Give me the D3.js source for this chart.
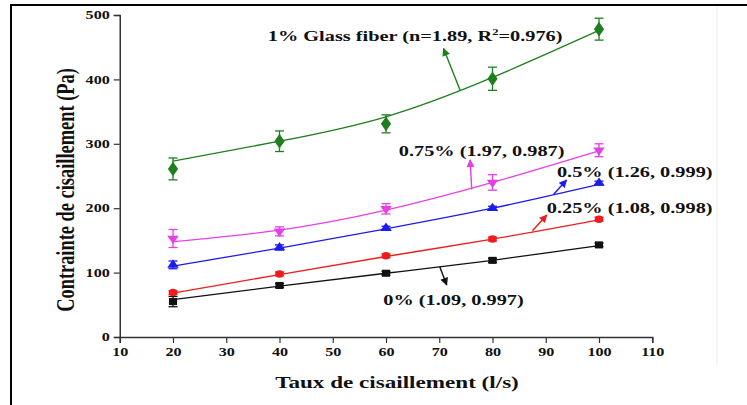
<!DOCTYPE html>
<html>
<head>
<meta charset="utf-8">
<script src="https://cdn.jsdelivr.net/npm/d3@7"></script>
<style>
  html, body { margin: 0; padding: 0; background: #fff; }
  svg { display: block; }
  text { font-family: "Liberation Serif", "Times New Roman", serif; font-weight: bold; fill: #111; }
</style>
</head>
<body>
<svg id="chart" width="747" height="405"></svg>
<script>
// Shear rate (1/s) at which each sample was measured
const shearRate = [20, 40, 60, 80, 100];

// Measured shear stress (Pa), error-bar half widths and fitted curve values
const stress0 = [55, 80, 99, 119, 143];
const err0 = [8, 3, 3, 3, 3];
const fit0 = [58, 79, 99, 119, 142];

const stress025 = [69, 98, 126, 152, 183];
const err025 = [3, 3, 3, 3, 3];
const fit025 = [68, 97, 125, 152, 182];

const stress05 = [112, 139, 169, 200, 239];
const err05 = [6, 4, 3, 3, 3];
const fit05 = [110, 138, 168, 200, 237];

const stress075 = [153, 164, 199, 240, 290];
const err075 = [14, 7, 8, 12, 10];
const fit075 = [148, 166, 197, 240, 289];

const stress1 = [261, 304, 331, 401, 478];
const err1 = [17, 16, 14, 18, 17];
const fit1 = [273, 304, 342, 403, 476];

const xTicks = [10, 20, 30, 40, 50, 60, 70, 80, 90, 100, 110];
const yTicks = [0, 100, 200, 300, 400, 500];

const xTitle = "Taux de cisaillement (l/s)";
const yTitle = "Contrainte de cisaillement (Pa)";

// The whole figure is drawn with a wide aspect: text is stretched horizontally
const WIDE = 1.4;

const series = [
  { values: stress0,   err: err0,   fit: fit0,   color: "#111111", symbol: d3.symbolSquare,   size: 50, sx: 1.15, sy: 1.0, rot: 0 },
  { values: stress025, err: err025, fit: fit025, color: "#ee1c1c", symbol: d3.symbolCircle,   size: 44, sx: 1.15, sy: 1.0, rot: 0 },
  { values: stress05,  err: err05,  fit: fit05,  color: "#1c1ced", symbol: d3.symbolTriangle, size: 40, sx: 1.2,  sy: 1.0, rot: 0 },
  { values: stress075, err: err075, fit: fit075, color: "#e63fe6", symbol: d3.symbolTriangle, size: 40, sx: 1.2,  sy: 1.0, rot: 180 },
  { values: stress1,   err: err1,   fit: fit1,   color: "#1f7f1f", symbol: d3.symbolDiamond,  size: 40, sx: 1.5,  sy: 1.25, rot: 0 }
];

// Annotation labels: text start / baseline and arrow (from curve to tip), in data units
const notes = [
  { s: 4, parts: [["1% Glass fiber (n=1.89, R", 0], ["2", 1], ["=0.976)", 0]], tx: 37.8, ty: 459, ax0: 73.9, ay0: 383.5, ax1: 70.8, ay1: 448 },
  { s: 3, parts: [["0.75% (1.97, 0.987)", 0]], tx: 62.4, ty: 281, ax0: 76.1, ay0: 229, ax1: 75.8, ay1: 275 },
  { s: 2, parts: [["0.5% (1.26, 0.999)", 0]], tx: 92.1, ty: 249, ax0: 91.5, ay0: 221.6, ax1: 93.9, ay1: 243.8 },
  { s: 1, parts: [["0.25% (1.08, 0.998)", 0]], tx: 90.2, ty: 193, ax0: 87.5, ay0: 165, ax1: 90.2, ay1: 189.4 },
  { s: 0, parts: [["0% (1.09, 0.997)", 0]], tx: 59.5, ty: 49.7, ax0: 70.1, ay0: 109, ax1: 71.4, ay1: 80.7 }
];

const svg = d3.select("#chart");

// Stretch a text element horizontally by factor k, keeping its anchor
function widen(sel, k) {
  sel.each(function () {
    const w = this.getComputedTextLength();
    d3.select(this).attr("textLength", w * k).attr("lengthAdjust", "spacingAndGlyphs");
  });
}

// Page frame
svg.append("line").attr("x1", 11).attr("y1", 4).attr("x2", 11).attr("y2", 405)
  .attr("stroke", "#000").attr("stroke-width", 2);
svg.append("line").attr("x1", 10).attr("y1", 5).attr("x2", 747).attr("y2", 5)
  .attr("stroke", "#000").attr("stroke-width", 2);
svg.append("line").attr("x1", 717).attr("y1", 6).attr("x2", 717).attr("y2", 365)
  .attr("stroke", "#ececec").attr("stroke-width", 1);

const x = d3.scaleLinear().domain([10, 110]).range([119.75, 652.25]);
const y = d3.scaleLinear().domain([0, 500]).range([337, 15]);

const axisColor = "#333";

// X axis: major ticks every 10, minor every 5
const gx = svg.append("g").attr("transform", `translate(0,${y(0)})`);
gx.call(d3.axisBottom(x).tickValues(d3.range(10, 111, 5)).tickSize(3).tickFormat(""))
  .call(g => g.select(".domain").remove());
gx.call(d3.axisBottom(x).tickValues(xTicks).tickSize(6).tickFormat(d3.format("d")).tickPadding(5));
gx.selectAll("line").attr("stroke", axisColor).attr("stroke-width", 1.2);
gx.select(".domain").attr("stroke", axisColor).attr("stroke-width", 1.5);
gx.selectAll("text").attr("font-size", 11.5).attr("font-family", "Liberation Serif")
  .attr("font-weight", "bold").attr("fill", "#222").call(widen, WIDE);

// Y axis: major ticks every 100, minor every 50
const gy = svg.append("g").attr("transform", `translate(${x(10)},0)`);
gy.call(d3.axisLeft(y).tickValues(d3.range(0, 501, 50)).tickSize(3).tickFormat(""))
  .call(g => g.select(".domain").remove());
gy.call(d3.axisLeft(y).tickValues(yTicks).tickSize(6).tickFormat(d3.format("d")).tickPadding(4));
gy.selectAll("line").attr("stroke", axisColor).attr("stroke-width", 1.2);
gy.select(".domain").attr("stroke", axisColor).attr("stroke-width", 1.5);
gy.selectAll("text").attr("font-size", 11.5).attr("font-family", "Liberation Serif")
  .attr("font-weight", "bold").attr("fill", "#222").call(widen, WIDE);

// Axis titles
svg.append("text").attr("x", 397).attr("y", 388).attr("text-anchor", "middle")
  .attr("font-size", 16.5).text(xTitle).call(widen, WIDE);
svg.append("text")
  .attr("transform", `translate(74,${(y(0) + y(500)) / 2 + 14}) scale(${WIDE},1) rotate(-90)`)
  .attr("text-anchor", "middle").attr("font-size", 18.4).text(yTitle);

// Arrowhead markers, one per series colour
const defs = svg.append("defs");
series.forEach((s, i) => {
  defs.append("marker").attr("id", "arr" + i)
    .attr("viewBox", "0 0 10 10").attr("refX", 9).attr("refY", 5)
    .attr("markerWidth", 10).attr("markerHeight", 8).attr("markerUnits", "userSpaceOnUse")
    .attr("orient", "auto")
    .append("path").attr("d", "M0,0 L10,5 L0,10 Z").attr("fill", s.color);
});

const line = d3.line().x((d, i) => x(shearRate[i])).y(d => y(d)).curve(d3.curveNatural);

series.forEach(s => {
  const g = svg.append("g");
  // fitted curve
  g.append("path").datum(s.fit).attr("d", line)
    .attr("fill", "none").attr("stroke", s.color).attr("stroke-width", 1.3);
  // error bars
  s.values.forEach((v, i) => {
    const cx = x(shearRate[i]);
    const lo = y(v - s.err[i]), hi = y(v + s.err[i]);
    g.append("line").attr("x1", cx).attr("x2", cx).attr("y1", lo).attr("y2", hi)
      .attr("stroke", s.color).attr("stroke-width", 1.3);
    [lo, hi].forEach(yy => g.append("line").attr("x1", cx - 4.5).attr("x2", cx + 4.5)
      .attr("y1", yy).attr("y2", yy).attr("stroke", s.color).attr("stroke-width", 1.3));
  });
  // markers
  g.selectAll("path.pt").data(s.values).enter().append("path").attr("class", "pt")
    .attr("d", d3.symbol().type(s.symbol).size(s.size))
    .attr("transform", (d, i) => `translate(${x(shearRate[i])},${y(d)}) scale(${s.sx},${s.sy}) rotate(${s.rot})`)
    .attr("fill", s.color);
});

// Annotations with arrows
notes.forEach(n => {
  const c = series[n.s].color;
  svg.append("line")
    .attr("x1", x(n.ax0)).attr("y1", y(n.ay0)).attr("x2", x(n.ax1)).attr("y2", y(n.ay1))
    .attr("stroke", c).attr("stroke-width", 1.4).attr("marker-end", `url(#arr${n.s})`);
  const t = svg.append("text").attr("x", x(n.tx)).attr("y", y(n.ty)).attr("font-size", 14.5);
  n.parts.forEach(p => {
    const ts = t.append("tspan").text(p[0]);
    if (p[1]) ts.attr("font-size", 9).attr("dy", -6);
    else if (t.selectAll("tspan").size() > 1) ts.attr("dy", 6);
  });
  t.selectAll("tspan").call(widen, WIDE);
});
</script>
</body>
</html>
